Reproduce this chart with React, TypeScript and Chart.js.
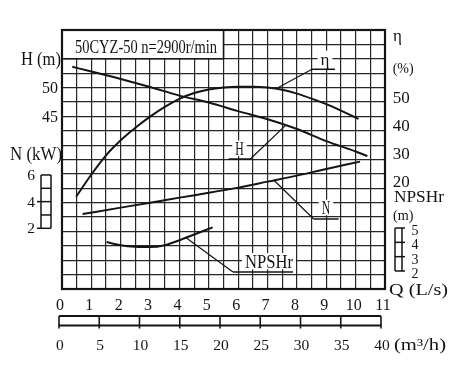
import { useEffect, useRef } from 'react';
import { Chart, registerables } from 'chart.js';

Chart.register(...registerables);

// ---- data ----
const qH = [0.35, 1, 2, 3, 4, 5, 6, 7, 8, 9, 10, 10.4];
const headH = [53.6, 52.8, 51.5, 50.1, 48.6, 47.4, 45.9, 44.5, 42.8, 40.7, 38.9, 38.1];

const qEta = [0.48, 1, 1.5, 2, 2.5, 3, 3.5, 4, 4.5, 5, 5.5, 6, 6.5, 7, 7.5, 8, 8.5, 9, 9.5, 10.1];
const effEta = [14.3, 22.3, 29.2, 34.6, 39.1, 43.1, 46.6, 49.5, 51.6, 52.9, 53.6, 53.9, 53.9, 53.6, 52.8, 51.4, 49.6, 47.6, 45.3, 42.3];

const qN = [0.7, 2, 3, 4, 5, 6, 7, 8, 9, 10.15];
const powerN = [3.07, 3.55, 3.92, 4.3, 4.66, 5.05, 5.5, 5.95, 6.45, 7.0];

const qNpsh = [1.52, 2, 2.5, 3, 3.5, 4, 4.5, 5.13];
const npshR = [4.02, 3.8, 3.69, 3.67, 3.8, 4.15, 4.55, 5.04];

// ---- tick labels ----
const qTicks = [0, 1, 2, 3, 4, 5, 6, 7, 8, 9, 10, 11];
const m3hTicks = [0, 5, 10, 15, 20, 25, 30, 35, 40];
const hTicks = [50, 45];
const etaTicks = [50, 40, 30, 20];
const nTicks = [6, 4, 2];
const nLadder = [2, 3, 4, 5, 6];
const npshTicks = [5, 4, 3, 2];

const TITLE = '50CYZ-50 n=2900r/min';
const INK = '#141414';
const GRID = '#262626';
const FONT = '"Liberation Serif", "Times New Roman", serif';

const notes = [
  { text: 'η', axis: 'yEta', at: [7.32, 53.3], elbow: [8.514, 15.27], tail: 9.297, label: [8.956, 15.6], size: 17, fit: 0 },
  { text: 'H', axis: 'yH', at: [7.605, 43.38], elbow: [6.413, 9.035], tail: 5.677, label: [6.045, 9.31], size: 18, fit: 8.5 },
  { text: 'N', axis: 'yN', at: [7.21, 5.62], elbow: [8.57, 4.865], tail: 9.42, label: [8.99, 5.19], size: 18, fit: 8.5 },
  { text: 'NPSHr', axis: 'yNpsh', at: [4.19, 4.37], elbow: [5.823, 1.18], tail: 7.867, label: [7.05, 1.44], size: 19, fit: 48 },
];

function measure(ctx: any, s: string, size: number, fitW?: number) {
  ctx.save();
  ctx.font = `${size}px ${FONT}`;
  const w = ctx.measureText(s).width;
  ctx.restore();
  return fitW ? fitW : w;
}

function put(ctx: any, s: string, x: number, y: number, size: number, align = 'left', fitW?: number) {
  ctx.save();
  ctx.font = `${size}px ${FONT}`;
  const w = ctx.measureText(s).width;
  const sx = fitW ? fitW / w : 1;
  const ww = w * sx;
  const x0 = align === 'left' ? x : align === 'right' ? x - ww : x - ww / 2;
  ctx.translate(x0, y);
  ctx.scale(sx, 1);
  ctx.textAlign = 'left';
  ctx.textBaseline = 'alphabetic';
  ctx.fillStyle = INK;
  ctx.fillText(s, 0, 0);
  ctx.restore();
}

function line(ctx: any, pts: number[][], w: number) {
  ctx.save();
  ctx.strokeStyle = INK;
  ctx.lineWidth = w;
  ctx.beginPath();
  pts.forEach((p, i) => (i ? ctx.lineTo(p[0], p[1]) : ctx.moveTo(p[0], p[1])));
  ctx.stroke();
  ctx.restore();
}

const deco = {
  id: 'deco',
  beforeDraw(chart: any) {
    const { ctx } = chart;
    ctx.save();
    ctx.fillStyle = '#fff';
    ctx.fillRect(0, 0, chart.width, chart.height);
    ctx.restore();
  },
  beforeDatasetsDraw(chart: any) {
    const { ctx, scales } = chart;
    const x = scales.x, g = scales.g;
    // header box
    const hx0 = x.getPixelForValue(0), hx1 = x.getPixelForValue(5.5);
    const hy0 = g.getPixelForValue(18), hy1 = g.getPixelForValue(16);
    ctx.save();
    ctx.fillStyle = '#fff';
    ctx.fillRect(hx0, hy0, hx1 - hx0, hy1 - hy0);
    ctx.strokeStyle = INK;
    ctx.lineWidth = 1.5;
    ctx.strokeRect(hx0, hy0, hx1 - hx0, hy1 - hy0);
    // white boxes behind annotation labels
    notes.forEach((n) => {
      const w = measure(ctx, n.text, n.size, n.fit || undefined);
      const cx = x.getPixelForValue(n.label[0]);
      const by = g.getPixelForValue(n.label[1]);
      const top = by - n.size * 0.7 - 2;
      const bot = n.text === 'η' ? by + 4 : by + 1;
      ctx.fillRect(cx - w / 2 - 3, top, w + 6, bot - top);
    });
    ctx.restore();
    put(ctx, TITLE, 75, 52.5, 18, 'left', 142);
  },
  afterDatasetsDraw(chart: any) {
    const { ctx, scales, chartArea } = chart;
    const x = scales.x, g = scales.g;
    notes.forEach((n) => {
      const p0 = [x.getPixelForValue(n.at[0]), scales[n.axis].getPixelForValue(n.at[1])];
      const p1 = [x.getPixelForValue(n.elbow[0]), g.getPixelForValue(n.elbow[1])];
      const p2 = [x.getPixelForValue(n.tail), p1[1]];
      line(ctx, [p0, p1], 1.2);
      line(ctx, [p1, p2], 1.5);
      put(ctx, n.text, x.getPixelForValue(n.label[0]), g.getPixelForValue(n.label[1]), n.size, 'center', n.fit || undefined);
    });
    ctx.save();
    ctx.strokeStyle = INK;
    ctx.lineWidth = 2.2;
    ctx.strokeRect(chartArea.left, chartArea.top, chartArea.right - chartArea.left, chartArea.bottom - chartArea.top);
    ctx.restore();
  },
  afterDraw(chart: any) {
    const { ctx, scales } = chart;
    const x = scales.x, x2 = scales.x2;
    // left axis texts
    put(ctx, 'H (m)', 21, 65, 18, 'left', 40);
    hTicks.forEach((v) => put(ctx, String(v), 58, scales.yH.getPixelForValue(v) + 5.3, 16, 'right'));
    put(ctx, 'N (kW)', 10, 160, 18, 'left', 52);
    nTicks.forEach((v) => put(ctx, String(v), 35, scales.yN.getPixelForValue(v) + 5, 15.5, 'right'));
    // N ladder
    const nTop = scales.yN.getPixelForValue(6), nBot = scales.yN.getPixelForValue(2);
    line(ctx, [[41, nTop], [41, nBot]], 1.5);
    line(ctx, [[51, nTop], [51, nBot]], 1.5);
    nLadder.forEach((v) => {
      const y = scales.yN.getPixelForValue(v);
      line(ctx, [[v === 2 || v === 4 ? 37 : 41, y], [51, y]], 1.5);
    });
    // right axis texts
    put(ctx, 'η', 393, 41, 17, 'left');
    put(ctx, '(%)', 392.7, 72.5, 15, 'left', 21);
    etaTicks.forEach((v) => put(ctx, String(v), 392.7, scales.yEta.getPixelForValue(v) + 5.6, 17, 'left'));
    put(ctx, 'NPSHr', 394, 201.5, 17.5, 'left', 50);
    put(ctx, '(m)', 393, 219.5, 15, 'left', 20.5);
    const sTop = scales.yNpsh.getPixelForValue(5), sBot = scales.yNpsh.getPixelForValue(2);
    line(ctx, [[395, sTop], [395, sBot]], 1.5);
    line(ctx, [[402, sTop], [402, sBot]], 1.5);
    npshTicks.forEach((v) => {
      const y = scales.yNpsh.getPixelForValue(v);
      line(ctx, [[395, y], [405, y]], 1.5);
      put(ctx, String(v), 411.5, y + 7, 14, 'left');
    });
    // bottom: L/s
    qTicks.forEach((v) => put(ctx, String(v), x.getPixelForValue(v) - 2, 310, 16, 'center'));
    put(ctx, 'Q (L/s)', 389, 295, 16.5, 'left', 59);
    // bottom: m3/h bar
    const bx0 = x2.getPixelForValue(0), bx1 = x2.getPixelForValue(40);
    line(ctx, [[bx0, 316], [bx1, 316]], 1.8);
    line(ctx, [[bx0, 325.5], [bx1, 325.5]], 1.8);
    m3hTicks.forEach((v) => {
      const px = x2.getPixelForValue(v);
      line(ctx, [[px, 316], [px, 328.5]], 1.6);
      put(ctx, String(v), px + 1, 350, 15.5, 'center');
    });
    put(ctx, '(m³/h)', 394, 350, 16.5, 'left', 52);
  },
};

export default function App() {
  const ref = useRef<HTMLCanvasElement>(null);
  useEffect(() => {
    document.body.style.margin = '0';
    const canvas = ref.current as HTMLCanvasElement;
    const gridQ: number[] = [];
    for (let i = 0; i <= 22; i++) gridQ.push(i * 0.5);
    const gridRows: number[] = [];
    for (let i = 0; i <= 18; i++) gridRows.push(i);
    const ds = (qs: number[], vs: number[], axis: string) => ({
      data: qs.map((q, i) => ({ x: q, y: vs[i] })),
      xAxisID: 'x',
      yAxisID: axis,
      borderColor: INK,
      borderWidth: 2,
      pointRadius: 0,
      fill: false,
      cubicInterpolationMode: 'monotone' as const,
    });
    const hidden = (min: number, max: number, position: string) => ({
      type: 'linear' as const,
      display: false,
      position,
      min,
      max,
    });
    const chart = new Chart(canvas, {
      type: 'line',
      data: {
        datasets: [
          ds(qH, headH, 'yH'),
          ds(qEta, effEta, 'yEta'),
          ds(qN, powerN, 'yN'),
          ds(qNpsh, npshR, 'yNpsh'),
        ] as any,
      },
      options: {
        animation: false,
        responsive: false,
        devicePixelRatio: 1,
        layout: { padding: { left: 62, top: 30, right: 73, bottom: 90 } },
        plugins: { legend: { display: false }, title: { display: false }, tooltip: { enabled: false } },
        events: [],
        scales: {
          x: {
            type: 'linear',
            position: 'bottom',
            min: 0,
            max: 11,
            afterBuildTicks: (axis: any) => {
              axis.ticks = gridQ.map((value) => ({ value }));
            },
            ticks: { display: false },
            grid: { color: GRID, lineWidth: 1.2, drawTicks: false },
            border: { display: false },
          },
          g: {
            type: 'linear',
            position: 'left',
            min: 0,
            max: 18,
            afterBuildTicks: (axis: any) => {
              axis.ticks = gridRows.map((value) => ({ value }));
            },
            ticks: { display: false },
            grid: { color: GRID, lineWidth: 1.2, drawTicks: false },
            border: { display: false },
          },
          x2: hidden(0.3727, 40.497, 'bottom'),
          yH: hidden(15, 60, 'left'),
          yEta: hidden(-18.88, 74.28, 'right'),
          yN: hidden(-2.554, 16.876, 'left'),
          yNpsh: hidden(0.744, 18.818, 'right'),
        } as any,
      },
      plugins: [deco],
    });
    return () => chart.destroy();
  }, []);
  return <canvas ref={ref} width={458} height={379} style={{ display: 'block', width: 458, height: 379 }} />;
}
